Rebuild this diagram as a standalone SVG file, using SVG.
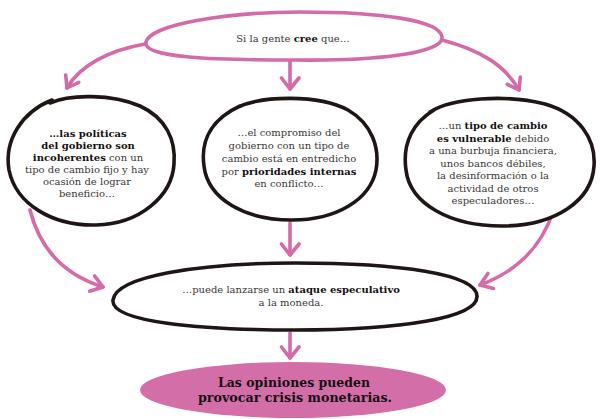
<svg xmlns="http://www.w3.org/2000/svg" width="600" height="419" viewBox="0 0 600 419">
<defs>
<style>
.pink{fill:none;stroke:#d46aa8;stroke-width:3.6;stroke-linecap:round;stroke-linejoin:round}
.blob{fill:#fff;stroke:#1e1614;stroke-width:3.6;stroke-linejoin:round;stroke-linecap:round}
.t{font-family:"DejaVu Serif","Liberation Serif",serif;font-size:10px;fill:#3a3636;text-anchor:middle}
.b{font-weight:bold;fill:#141010}
.big{font-family:"DejaVu Serif","Liberation Serif",serif;font-size:13.5px;font-weight:bold;fill:#141010;text-anchor:middle}
</style>
</defs>
<rect width="600" height="419" fill="#fff"/>

<g id="connectors">
  <path class="pink" d="M145,44 C110,50 80,65 67,88"/>
  <path class="pink" d="M78.7,82.4 L67,88 L65.7,75.1"/>
  <path class="pink" d="M290,61 L290,89"/>
  <path class="pink" d="M281.5,78 L290,89 L299,78"/>
  <path class="pink" d="M442,40 C480,50 505,65 519,90"/>
  <path class="pink" d="M520.3,77.1 L519,90 L507.3,84.4"/>
  <path class="pink" d="M30,210 C40,250 65,275 103,287"/>
  <path class="pink" d="M94.5,275.9 L103,287 L89.6,291.2"/>
  <path class="pink" d="M553,212 C540,250 515,272 480,285"/>
  <path class="pink" d="M493.5,288.5 L480,285 L487.9,273.5"/>
  <path class="pink" d="M290,223 L290,255"/>
  <path class="pink" d="M281.5,244 L290,255 L299,244"/>
  <path class="pink" d="M290,333 L290,358"/>
  <path class="pink" d="M281.5,347 L290,358 L299,347"/>
</g>

<g id="node-top">
  <path d="M146,42 C150,24 230,12 300,12 C380,12 440,20 442,37 C444,54 370,61 295,60 C215,60 142,58 146,42 Z" fill="#fff" stroke="#d46aa8" stroke-width="3.6" stroke-linejoin="round"/>
  <text class="t" x="293" y="42">Si la gente <tspan class="b">cree</tspan> que…</text>
</g>

<g id="node-left">
  <path class="blob" d="M50,103 C70,94 112,94 140,106 C166,118 176,140 174,164 C172,196 140,224 96,225 C52,226 16,204 9,170 C4,140 22,112 52,100 L44,104"/>
  <text class="t" x="88" y="137"><tspan class="b">…las políticas</tspan></text>
  <text class="t" x="88" y="149"><tspan class="b">del gobierno son</tspan></text>
  <text class="t" x="88" y="161"><tspan class="b">incoherentes</tspan> con un</text>
  <text class="t" x="87" y="173">tipo de cambio fijo y hay</text>
  <text class="t" x="87" y="185">ocasión de lograr</text>
  <text class="t" x="87" y="197">beneficio…</text>
</g>

<g id="node-middle">
  <path class="blob" d="M238,107 C262,96 318,94 348,110 C372,124 380,148 376,170 C370,200 336,220 292,220 C246,220 208,200 204,166 C200,138 214,118 240,106"/>
  <text class="t" x="289" y="136">…el compromiso del</text>
  <text class="t" x="289" y="149">gobierno con un tipo de</text>
  <text class="t" x="289" y="162">cambio está en entredicho</text>
  <text class="t" x="289" y="175">por <tspan class="b">prioridades internas</tspan></text>
  <text class="t" x="289" y="187">en conflicto…</text>
</g>

<g id="node-right">
  <path class="blob" d="M430,112 C452,98 505,94 545,104 C580,114 596,140 594,166 C592,200 556,226 502,226 C450,226 410,204 406,170 C402,142 414,122 434,110"/>
  <text class="t" x="493" y="129">…un <tspan class="b">tipo de cambio</tspan></text>
  <text class="t" x="493" y="141.5"><tspan class="b">es vulnerable</tspan> debido</text>
  <text class="t" x="493" y="154">a una burbuja financiera,</text>
  <text class="t" x="493" y="166.5">unos bancos débiles,</text>
  <text class="t" x="493" y="179">la desinformación o la</text>
  <text class="t" x="493" y="191.5">actividad de otros</text>
  <text class="t" x="493" y="204">especuladores…</text>
</g>

<g id="node-attack">
  <path class="blob" d="M113,300 C116,276 200,263 295,263 C400,263 476,274 477,296 C478,318 400,330 295,330 C200,330 110,322 113,300 Z"/>
  <text class="t" x="291" y="293">…puede lanzarse un <tspan class="b">ataque especulativo</tspan></text>
  <text class="t" x="291" y="306">a la moneda.</text>
</g>

<g id="node-conclusion">
  <ellipse cx="293" cy="390" rx="153" ry="28" fill="#d46ea9"/>
  <text class="big" x="294" y="387" textLength="152" lengthAdjust="spacingAndGlyphs">Las opiniones pueden</text>
  <text class="big" x="295" y="402" textLength="194" lengthAdjust="spacingAndGlyphs">provocar crisis monetarias.</text>
</g>
</svg>
